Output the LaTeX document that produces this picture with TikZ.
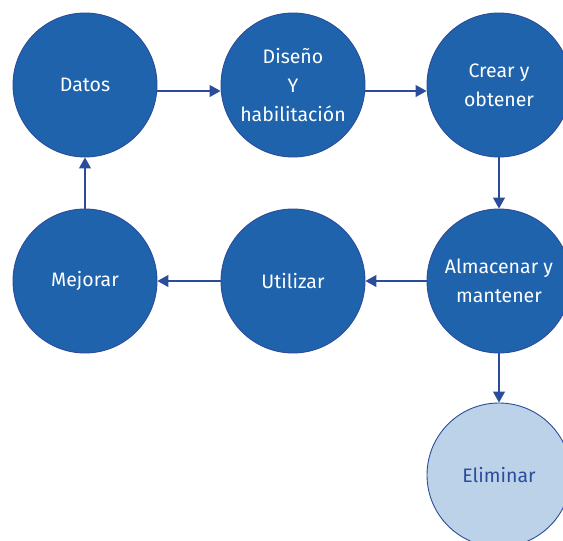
\documentclass[tikz,border=0pt]{standalone}
\usepackage{fontspec}
\setmainfont{Fira Sans}
\usetikzlibrary{arrows.meta}
\definecolor{stagefill}{HTML}{1F63AD}
\definecolor{stageline}{HTML}{2B4C9B}
\definecolor{endfill}{HTML}{BCD2E8}
\begin{document}
\begin{tikzpicture}[x=1pt,y=-1pt,
  stage/.style={circle,draw=stageline,line width=0.9pt,fill=stagefill,
    minimum size=144pt,inner sep=0pt,text=white,align=center,
    font=\fontsize{19.5}{29}\selectfont},
  endstage/.style={stage,fill=endfill,text=stageline},
  flow/.style={draw=stageline,line width=1.1pt,
    -{Triangle[length=11pt,width=12pt]}}]
  \useasboundingbox (0,0) rectangle (563,541);
  \begin{scope}
    \clip (0,0) rectangle (563,541);
    \node[stage] (datos) at (85,85) {Datos};
    \node[stage] (diseno) at (293,85) {Diseño\\Y\\habilitación};
    \node[stage] (crear) at (499,85) {Crear y\\obtener};
    \node[stage] (almacenar) at (499,281) {Almacenar y\\mantener};
    \node[stage] (utilizar) at (293,281) {Utilizar};
    \node[stage] (mejorar) at (85,281) {Mejorar};
    \node[endstage] (eliminar) at (499,475) {Eliminar};
  \end{scope}
  \draw[flow] ([yshift=-6pt]datos.east) -- ([yshift=-6pt]diseno.west);
  \draw[flow] ([yshift=-6pt]diseno.east) -- ([yshift=-6pt]crear.west);
  \draw[flow] (crear.south) -- (almacenar.north);
  \draw[flow] (almacenar.west) -- (utilizar.east);
  \draw[flow] (utilizar.west) -- (mejorar.east);
  \draw[flow] (mejorar.north) -- (datos.south);
  \draw[flow] (almacenar.south) -- (eliminar.north);
\end{tikzpicture}
\end{document}
